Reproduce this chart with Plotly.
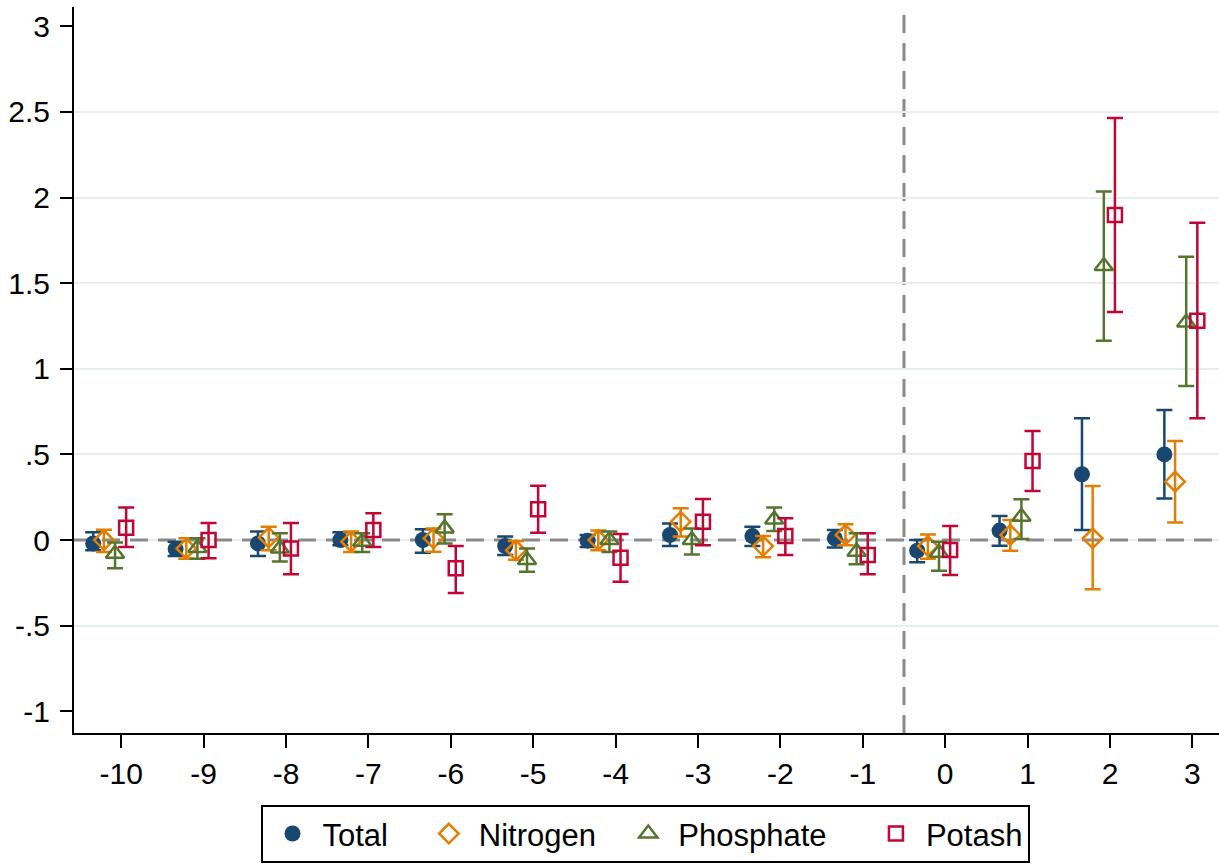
import plotly.graph_objects as go

# Event-time periods
periods = [-10, -9, -8, -7, -6, -5, -4, -3, -2, -1, 0, 1, 2, 3]
period_labels = ["-10", "-9", "-8", "-7", "-6", "-5", "-4", "-3", "-2", "-1", "0", "1", "2", "3"]

# Point estimates and confidence bounds per series
total_est = [-0.02, -0.053, -0.02, 0.0, 0.0, -0.035, -0.004, 0.03, 0.023, 0.01, -0.062, 0.055, 0.384, 0.50]
total_lo = [-0.06, -0.093, -0.093, -0.03, -0.074, -0.088, -0.04, -0.035, -0.035, -0.043, -0.13, -0.033, 0.058, 0.243]
total_hi = [0.045, -0.01, 0.05, 0.045, 0.063, 0.02, 0.03, 0.097, 0.078, 0.058, 0.0, 0.14, 0.711, 0.759]

nitrogen_est = [0.0, -0.05, 0.015, -0.01, 0.01, -0.06, 0.0, 0.107, -0.035, 0.03, -0.035, 0.03, 0.01, 0.341]
nitrogen_lo = [-0.07, -0.11, -0.06, -0.07, -0.068, -0.115, -0.06, 0.02, -0.1, -0.03, -0.11, -0.062, -0.288, 0.103]
nitrogen_hi = [0.06, 0.01, 0.078, 0.05, 0.068, -0.005, 0.055, 0.185, 0.023, 0.092, 0.033, 0.117, 0.315, 0.578]

phosphate_est = [-0.08, -0.047, -0.05, -0.01, 0.068, -0.117, 0.0, 0.0, 0.12, -0.068, -0.074, 0.136, 1.60, 1.27]
phosphate_lo = [-0.165, -0.11, -0.125, -0.07, -0.02, -0.185, -0.07, -0.084, 0.053, -0.142, -0.18, 0.006, 1.164, 0.90]
phosphate_hi = [-0.015, 0.01, 0.04, 0.04, 0.15, -0.05, 0.05, 0.068, 0.19, 0.04, -0.01, 0.238, 2.035, 1.655]

potash_est = [0.072, 0.0, -0.05, 0.058, -0.165, 0.18, -0.103, 0.107, 0.023, -0.088, -0.058, 0.461, 1.898, 1.281]
potash_lo = [-0.04, -0.107, -0.2, -0.04, -0.31, 0.043, -0.243, -0.03, -0.088, -0.2, -0.204, 0.286, 1.332, 0.711]
potash_hi = [0.19, 0.10, 0.10, 0.156, -0.035, 0.317, 0.035, 0.24, 0.127, 0.04, 0.082, 0.637, 2.465, 1.853]

y_tickvals = [-1, -0.5, 0, 0.5, 1, 1.5, 2, 2.5, 3]
y_ticktext = ["-1", "-.5", "0", ".5", "1", "1.5", "2", "2.5", "3"]
grid_vals = [-0.5, 0.5, 1, 1.5, 2, 2.5]

GRID = "#e6eef1"
REF = "#8a8a8a"
NB = "\u00a0"  # non-breaking space used to widen legend entries

series = [
    # name, legend padding, estimates, lower, upper, symbol, size, color, horizontal offset
    ("Total", 3, total_est, total_lo, total_hi, "circle", 16, "#1a476f", -0.34),
    ("Nitrogen", 2, nitrogen_est, nitrogen_lo, nitrogen_hi, "diamond-open", 15, "#e37e00", -0.21),
    ("Phosphate", 4, phosphate_est, phosphate_lo, phosphate_hi, "triangle-up-open", 16, "#55752f", -0.075),
    ("Potash", 0, potash_est, potash_lo, potash_hi, "square-open", 14, "#c10534", 0.06),
]

FONT = "Liberation Sans, Arial, sans-serif"

fig = go.Figure()
for name, pad, est, lo, hi, symbol, size, color, off in series:
    fig.add_trace(go.Scatter(
        x=[p + off for p in periods],
        y=est,
        mode="markers",
        name=name + NB * pad,
        marker=dict(symbol=symbol, size=size, color=color,
                    line=dict(color=color, width=2.5 if "open" in symbol else 0)),
        error_y=dict(type="data", symmetric=False,
                     array=[h - e for h, e in zip(hi, est)],
                     arrayminus=[e - l for e, l in zip(est, lo)],
                     color=color, thickness=2.5, width=8),
        cliponaxis=False,
    ))

# Reference lines: zero effect (over a light grid line) and treatment onset
fig.add_hline(y=0, line=dict(color=GRID, width=2), layer="below")
fig.add_hline(y=0, line=dict(color=REF, width=3, dash="18px,10px"), layer="below")
fig.add_vline(x=-0.5, line=dict(color=REF, width=3, dash="18px,10px"), layer="below")

fig.update_layout(
    width=1219, height=865,
    margin=dict(l=74, r=0, t=7, b=132),
    paper_bgcolor="white", plot_bgcolor="white",
    font=dict(family=FONT, size=30, color="black"),
    showlegend=True,
    legend=dict(
        orientation="h", x=0.4987, xanchor="center", y=-0.099, yanchor="top",
        bordercolor="black", borderwidth=2, font=dict(size=31),
        itemwidth=50, traceorder="normal",
    ),
    xaxis=dict(
        range=[-10.573, 3.323], tickvals=periods, ticktext=period_labels,
        showgrid=False, zeroline=False, showline=True, linecolor="black", linewidth=2,
        ticks="outside", ticklen=13, tickwidth=2, tickcolor="black",
        tickfont=dict(size=30),
    ),
    yaxis=dict(
        range=[-1.127, 3.113], tickvals=y_tickvals, ticktext=y_ticktext,
        showgrid=False, zeroline=False, showline=True, linecolor="black", linewidth=2,
        ticks="outside", ticklen=12, tickwidth=2, tickcolor="black",
        tickfont=dict(size=30), ticklabelstandoff=4,
        minor=dict(tickvals=grid_vals, showgrid=True, gridcolor=GRID, gridwidth=2, ticks=""),
    ),
)

fig.write_html("out.html")
